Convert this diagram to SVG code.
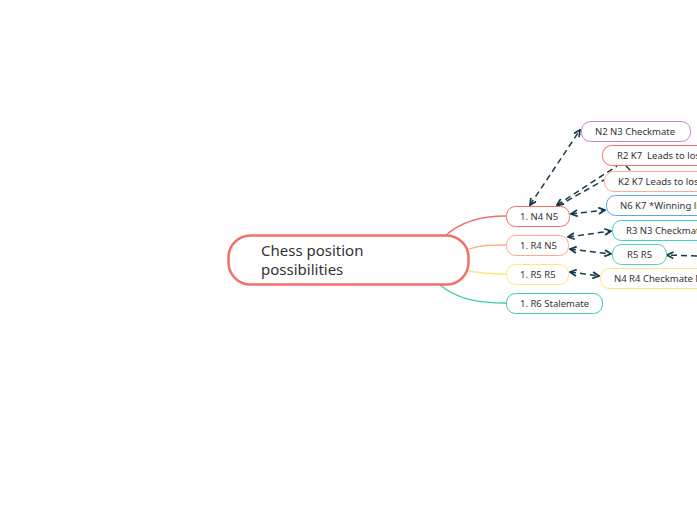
<svg xmlns="http://www.w3.org/2000/svg" width="697" height="520" viewBox="0 0 697 520">
<style>
.t{font-family:"Noto Sans","Liberation Sans",sans-serif;fill:#333;font-size:9.5px}
.big{font-size:15px}
.n{fill:#fff;stroke-width:1}
.c{fill:none;stroke:#163b4d;stroke-width:1.5;stroke-dasharray:6 4}
.b{fill:none;stroke-width:1.3}
</style>
<defs>
<marker id="a" viewBox="0 0 10 10" refX="9" refY="5" markerWidth="8" markerHeight="8" orient="auto-start-reverse" markerUnits="userSpaceOnUse">
<path d="M1,1 L9,5 L1,9" fill="none" stroke="#163b4d" stroke-width="2.2"/>
</marker>
</defs>
<rect width="697" height="520" fill="#fff"/>
<g id="branches">
<path class="b" stroke="#f46e67" d="M445,236 C460,222 480,216 506,216"/>
<path class="b" stroke="#ffab84" d="M469,249 C480,245 492,245 506,245"/>
<path class="b" stroke="#ffe57a" d="M469,271 C482,274 494,274 506,274"/>
<path class="b" stroke="#3fcf9a" d="M440,285 C458,300 480,303 506,303"/>
</g>
<g id="connectors">
<path class="c" d="M530,205 L580,130" marker-start="url(#a)" marker-end="url(#a)"/>
<path class="c" d="M557,205 L617,166" marker-start="url(#a)"/>
<path class="c" d="M626,166 L634,174"/>
<path class="c" d="M558,206 L604,180"/>
<path class="c" d="M571,214 L605,210" marker-start="url(#a)" marker-end="url(#a)"/>
<path class="c" d="M568,237 L611,231" marker-start="url(#a)" marker-end="url(#a)"/>
<path class="c" d="M570,249 L611,254" marker-start="url(#a)" marker-end="url(#a)"/>
<path class="c" d="M697,256 L667,255" marker-end="url(#a)"/>
<path class="c" d="M570,272 L599,276" marker-start="url(#a)" marker-end="url(#a)"/>
</g>
<g id="root">
<rect x="228.5" y="235.5" width="240" height="49" rx="22" fill="#fff" stroke="#f46e67" stroke-width="2.5"/>
<text class="t big" x="261" y="256">Chess position</text>
<text class="t big" x="261" y="275">possibilities</text>
</g>
<g id="n4n5"><rect class="n" x="506.5" y="206.5" width="63" height="20" rx="9" stroke="#f46e67"/><text class="t" x="520" y="220">1. N4 N5</text></g>
<g id="r4n5"><rect class="n" x="506.5" y="235.5" width="62" height="20" rx="9" stroke="#ffab84"/><text class="t" x="520" y="249">1. R4 N5</text></g>
<g id="r5r5a"><rect class="n" x="506.5" y="264.5" width="62" height="20" rx="9" stroke="#ffe57a"/><text class="t" x="520" y="278">1. R5 R5</text></g>
<g id="r6"><rect class="n" x="506.5" y="293.5" width="96" height="20" rx="9" stroke="#3fcf9a"/><text class="t" x="520" y="307">1. R6 Stalemate</text></g>
<g id="n2n3"><rect class="n" x="581.5" y="121.5" width="109" height="20" rx="9" stroke="#c880dc"/><text class="t" x="595" y="135">N2 N3 Checkmate</text></g>
<g id="r2k7"><rect class="n" x="602.5" y="145.5" width="120" height="20" rx="9" stroke="#f46e67"/><text class="t" x="617" y="159" xml:space="preserve">R2 K7  Leads to loss</text></g>
<g id="k2k7"><rect class="n" x="604.5" y="171.5" width="120" height="20" rx="9" stroke="#ffab84"/><text class="t" x="618" y="185">K2 K7 Leads to loss</text></g>
<g id="n6k7"><rect class="n" x="606.5" y="195.5" width="120" height="20" rx="9" stroke="#5aa6f0"/><text class="t" x="620" y="209">N6 K7 *Winning line</text></g>
<g id="r3n3"><rect class="n" x="612.5" y="220.5" width="120" height="20" rx="9" stroke="#3fcfcf"/><text class="t" x="626" y="234">R3 N3 Checkmate</text></g>
<g id="r5r5b"><rect class="n" x="612.5" y="244.5" width="54" height="20" rx="9" stroke="#4fd6a9"/><text class="t" x="627" y="258">R5 R5</text></g>
<g id="n4r4"><rect class="n" x="600.5" y="268.5" width="130" height="20" rx="9" stroke="#ffe57a"/><text class="t" x="614" y="282">N4 R4 Checkmate N</text></g>
</svg>
